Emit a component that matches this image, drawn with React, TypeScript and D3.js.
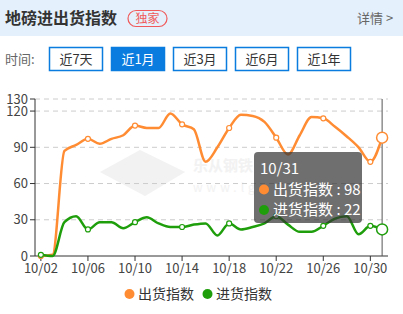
import React from "react";
import * as d3 from "d3";

const dates = [
  "10/02", "10/03", "10/04", "10/05", "10/06", "10/07", "10/08", "10/09", "10/10", "10/11",
  "10/12", "10/13", "10/14", "10/15", "10/16", "10/17", "10/18", "10/19", "10/20", "10/21",
  "10/22", "10/23", "10/24", "10/25", "10/26", "10/27", "10/28", "10/29", "10/30", "10/31",
];
const outData = [0, 1, 87, 92, 97, 93, 97, 100, 108, 106, 106, 118, 109, 105, 78, 90, 106, 117, 116, 111, 98, 84, 100, 115, 114, 107, 99, 90, 78, 98];
const inData = [1, 0, 28, 33, 22, 28, 28, 23, 28, 32, 27, 24, 24, 26, 27, 17, 27, 22, 24, 27, 33, 26, 20, 20, 25, 31, 33, 18, 25, 22];
const yTicks = [0, 30, 60, 90, 120, 130];
const ranges = ["近7天", "近1月", "近3月", "近6月", "近1年"];
const seriesNames = ["出货指数", "进货指数"];

const ORANGE = "#ff8c33";
const GREEN = "#1f9e0c";
const BLUE = "#0a7ce0";
const FONT = "'Noto Sans CJK SC', 'Noto Sans', sans-serif";

const W = 403;
const H = 314;
const left = 35;
const right = 388;
const top = 99;
const bottom = 256;

const App = () => {
  const x = d3.scaleBand().domain(dates).range([left, right]);
  const cx = (d: string) => (x(d) as number) + x.bandwidth() / 2;
  const y = d3.scaleLinear().domain([0, 130]).range([bottom, top]);
  const line = d3.line<number>()
    .x((d, i) => cx(dates[i]))
    .y(d => y(d))
    .curve(d3.curveMonotoneX);

  const shown = dates.filter((d, i) => i % 4 === 0);
  const last = dates.length - 1;
  const series = [
    { name: seriesNames[0], data: outData, color: ORANGE },
    { name: seriesNames[1], data: inData, color: GREEN },
  ];

  return (
    <div style={{ position: "absolute", left: 0, top: 0 }}>
      <svg width={W} height={H} style={{ display: "block", fontFamily: FONT }}>
        <rect x={0} y={0} width={W} height={H} fill="#fff" />
        {/* header */}
        <rect x={0} y={0} width={W} height={36} fill="#e4f0fb" />
        <text x={5} y={24} fontSize={16} fontWeight={700} fill="#333">地磅进出货指数</text>
        <rect x={128} y={10.5} width={39} height={16} rx={8} fill="none" stroke="#f05a5a" strokeWidth={1.2} />
        <text x={147.5} y={23} fontSize={12} fill="#f05a5a" textAnchor="middle">独家</text>
        <text x={357} y={23} fontSize={13} fill="#666">详情 &gt;</text>

        {/* range buttons */}
        <text x={5} y={64} fontSize={13} fill="#666">时间:</text>
        {ranges.map((r, i) => {
          const bx = 49.5 + i * 62;
          const sel = i === 1;
          return (
            <g key={r}>
              <rect x={bx} y={47.5} width={53} height={23} fill={sel ? BLUE : "#fff"} stroke={BLUE} strokeWidth={1.5} />
              <text x={bx + 26.5} y={64} fontSize={13} textAnchor="middle" fill={sel ? "#fff" : "#333"}>{r}</text>
            </g>
          );
        })}

        {/* watermark (mostly hidden behind the tooltip in the original) */}
        <g opacity={0.5}>
          <polygon points="100,172 140,150 185,172 145,196" fill="#e6e6e6" />
          <text x={193} y={171} fontSize={15} fontWeight={700} fill="#e6e6e6">乐从钢铁</text>
          <text x={193} y={192} fontSize={12} fill="#e6e6e6" letterSpacing={4}>www.lg</text>
        </g>

        {/* grid */}
        {yTicks.filter(t => t > 0).map(t => (
          <line key={t} x1={left} x2={right} y1={y(t)} y2={y(t)} stroke="#ccc" strokeDasharray="5,4" />
        ))}

        {/* y axis */}
        <line x1={left} x2={left} y1={top} y2={bottom} stroke="#333" />
        {yTicks.map(t => (
          <g key={t}>
            <line x1={left - 5} x2={left} y1={y(t)} y2={y(t)} stroke="#333" />
            <text x={left - 7} y={y(t)} dy="0.35em" fontSize={13} fill="#444" textAnchor="end">{t}</text>
          </g>
        ))}

        {/* x axis */}
        <line x1={left} x2={right} y1={bottom} y2={bottom} stroke="#333" />
        {shown.map(d => (
          <g key={d}>
            <line x1={cx(d)} x2={cx(d)} y1={bottom} y2={bottom + 5} stroke="#333" />
            <text x={cx(d)} y={273} fontSize={13} fill="#444" textAnchor="middle">{d}</text>
          </g>
        ))}

        {/* axis pointer */}
        <line x1={cx(dates[last])} x2={cx(dates[last])} y1={top} y2={bottom} stroke="#555" strokeWidth={1} />

        {/* lines */}
        {series.map(s => (
          <g key={s.name}>
            <path d={line(s.data) as string} fill="none" stroke={s.color} strokeWidth={2.5} />
            {s.data.map((v, i) => (i % 4 === 0 ? (
              <circle key={i} cx={cx(dates[i])} cy={y(v)} r={2.5} fill="#fff" stroke={s.color} strokeWidth={1.2} />
            ) : null))}
            <circle cx={cx(dates[last])} cy={y(s.data[last])} r={5.5} fill="#fff" stroke={s.color} strokeWidth={1.5} />
          </g>
        ))}

        {/* tooltip */}
        <g>
          <rect x={254} y={152} width={108} height={71} rx={4} fill="rgba(50,50,50,0.7)" />
          <text x={260} y={174} fontSize={15} fill="#fff">{dates[last]}</text>
          {series.map((s, i) => (
            <g key={s.name}>
              <circle cx={264} cy={189.5 + i * 20.5} r={5} fill={s.color} />
              <text x={273} y={189.5 + i * 20.5} dy="0.36em" fontSize={15} fill="#fff">
                {s.name} : {s.data[last]}
              </text>
            </g>
          ))}
        </g>

        {/* legend */}
        {series.map((s, i) => (
          <g key={s.name}>
            <circle cx={129.5 + i * 78} cy={294} r={5} fill={s.color} />
            <text x={138 + i * 78} y={294} dy="0.35em" fontSize={14} fill="#333">{s.name}</text>
          </g>
        ))}
      </svg>
    </div>
  );
};

export default App;
